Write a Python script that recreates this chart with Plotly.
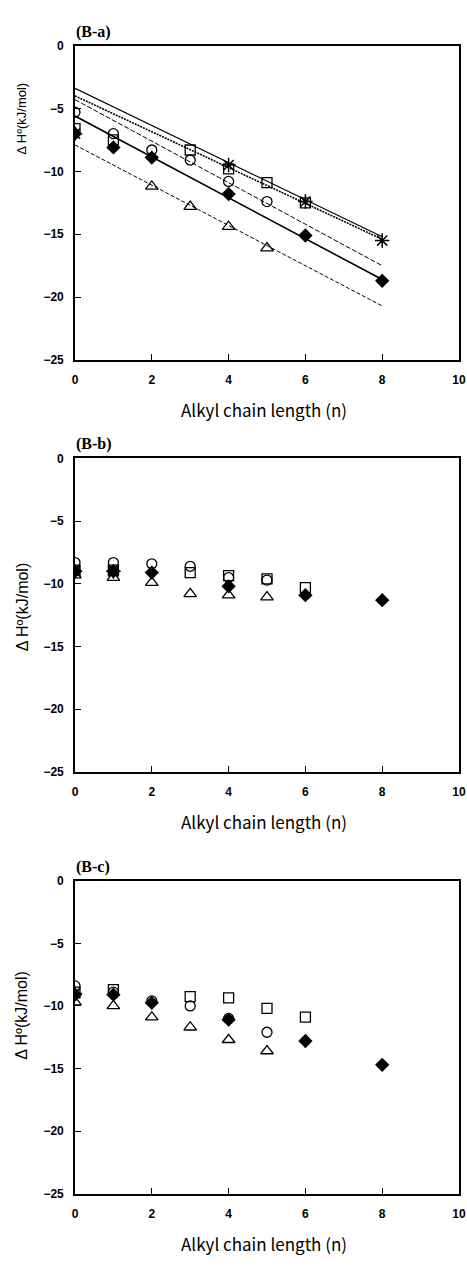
import plotly.graph_objects as go

W, H = 467, 1267
ML, MR = 75, 8

# ---------------- data ----------------
# Panel (B-a)
a_circle_x = [0, 1, 2, 3, 4, 5]
a_circle_y = [-5.3, -7.0, -8.3, -9.1, -10.8, -12.4]
a_square_x = [0, 1, 3, 4, 5, 6]
a_square_y = [-6.6, -7.5, -8.3, -9.8, -10.9, -12.5]
a_diamond_x = [0, 1, 2, 4, 6, 8]
a_diamond_y = [-7.0, -8.1, -8.9, -11.8, -15.1, -18.7]
a_triangle_x = [2, 3, 4, 5]
a_triangle_y = [-11.2, -12.8, -14.4, -16.1]
a_star_x = [0, 4, 6, 8]
a_star_y = [-7.0, -9.5, -12.4, -15.5]

fit_x = [0, 8]
a_star_fit = [-3.4, -15.2]
a_square_fit = [-4.0, -15.4]
a_circle_fit = [-4.3, -17.5]
a_diamond_fit = [-5.6, -18.6]
a_triangle_fit = [-7.9, -20.7]

# Panel (B-b)
b_circle_x = [0, 1, 2, 3, 4, 5]
b_circle_y = [-8.3, -8.3, -8.4, -8.6, -9.5, -9.7]
b_square_x = [0, 1, 3, 4, 5, 6]
b_square_y = [-8.9, -8.9, -9.1, -9.35, -9.6, -10.3]
b_diamond_x = [0, 1, 2, 4, 6, 8]
b_diamond_y = [-9.0, -9.0, -9.1, -10.2, -10.9, -11.3]
b_triangle_x = [0, 1, 2, 3, 4, 5]
b_triangle_y = [-9.3, -9.5, -9.9, -10.8, -10.9, -11.05]
b_star_x = [0, 1]
b_star_y = [-9.0, -9.0]

# Panel (B-c)
c_circle_x = [0, 1, 2, 3, 4, 5]
c_circle_y = [-8.4, -8.9, -9.6, -10.0, -11.0, -12.1]
c_square_x = [0, 1, 3, 4, 5, 6]
c_square_y = [-8.9, -8.7, -9.25, -9.35, -10.2, -10.9]
c_diamond_x = [0, 1, 2, 4, 6, 8]
c_diamond_y = [-9.1, -9.1, -9.75, -11.1, -12.8, -14.7]
c_triangle_x = [0, 1, 2, 3, 4, 5]
c_triangle_y = [-9.7, -10.0, -10.9, -11.7, -12.7, -13.6]
c_star_x = [0]
c_star_y = [-9.0]

x_ticks = [0, 2, 4, 6, 8, 10]
y_ticks = [0, -5, -10, -15, -20, -25]
panel_titles = ["(B-a)", "(B-b)", "(B-c)"]
x_title = "Alkyl chain length (n)"
y_title = "\u0394 H\u00ba(kJ/mol)"

# ---------------- layout helpers ----------------
def yfrac(px):
    return 1 - px / H

def xfrac(px):
    return (px - ML) / (W - ML - MR)

# pixel top/bottom of each plot area
panels = [(39, 357), (456.5, 773.5), (883.5, 1200)]

fig = go.Figure()

BLACK = "black"

def add_markers(ax, cx, cy, sx, sy, dx, dy, tx, ty, stx, sty):
    xa = "x" if ax == 1 else f"x{ax}"
    ya = "y" if ax == 1 else f"y{ax}"
    common = dict(mode="markers", xaxis=xa, yaxis=ya, showlegend=False, hoverinfo="skip")
    fig.add_trace(go.Scatter(x=tx, y=ty, marker=dict(symbol="triangle-up-open", size=11,
                  color=BLACK, line=dict(width=1.3, color=BLACK)), **common))
    fig.add_trace(go.Scatter(x=sx, y=sy, marker=dict(symbol="square-open", size=10,
                  color=BLACK, line=dict(width=1.3, color=BLACK)), **common))
    fig.add_trace(go.Scatter(x=cx, y=cy, marker=dict(symbol="circle-open", size=10,
                  color=BLACK, line=dict(width=1.3, color=BLACK)), **common))
    fig.add_trace(go.Scatter(x=dx, y=dy, marker=dict(symbol="diamond", size=11,
                  color=BLACK, line=dict(width=0, color=BLACK)), **common))
    fig.add_trace(go.Scatter(x=stx, y=sty, marker=dict(symbol="asterisk-open", size=12,
                  color=BLACK, line=dict(width=1.5, color=BLACK)), **common))

# fit lines for panel a
for vals, dash, width in [
    (a_triangle_fit, "4px,2px", 1.0),
    (a_diamond_fit, "solid", 1.6),
    (a_circle_fit, "5px,2px", 1.0),
    (a_square_fit, "2px,1px", 1.6),
    (a_star_fit, "solid", 1.2),
]:
    fig.add_trace(go.Scatter(x=fit_x, y=vals, mode="lines", xaxis="x", yaxis="y",
                             line=dict(color=BLACK, width=width, dash=dash),
                             showlegend=False, hoverinfo="skip"))

add_markers(1, a_circle_x, a_circle_y, a_square_x, a_square_y, a_diamond_x, a_diamond_y,
            a_triangle_x, a_triangle_y, a_star_x, a_star_y)
add_markers(2, b_circle_x, b_circle_y, b_square_x, b_square_y, b_diamond_x, b_diamond_y,
            b_triangle_x, b_triangle_y, b_star_x, b_star_y)
add_markers(3, c_circle_x, c_circle_y, c_square_x, c_square_y, c_diamond_x, c_diamond_y,
            c_triangle_x, c_triangle_y, c_star_x, c_star_y)

tickfont = dict(family="Arial, Liberation Sans, sans-serif", size=12, color=BLACK, weight="bold")
layout = dict(
    width=W, height=H,
    margin=dict(l=ML, r=MR, t=0, b=0),
    paper_bgcolor="white", plot_bgcolor="white",
)

annotations = []
for i, (top, bot) in enumerate(panels, start=1):
    xk = "xaxis" if i == 1 else f"xaxis{i}"
    yk = "yaxis" if i == 1 else f"yaxis{i}"
    anchor_x = "y" if i == 1 else f"y{i}"
    anchor_y = "x" if i == 1 else f"x{i}"
    layout[xk] = dict(domain=[0, 1], anchor=anchor_x, range=[0, 10],
                      tickmode="array", tickvals=x_ticks, ticktext=[str(v) for v in x_ticks],
                      ticks="inside", ticklen=6, tickwidth=1.2, tickcolor=BLACK,
                      showline=True, linecolor=BLACK, linewidth=1.6, mirror=True,
                      showgrid=False, zeroline=False, tickfont=tickfont,
                      ticklabelstandoff=8)
    layout[yk] = dict(domain=[yfrac(bot), yfrac(top)], anchor=anchor_y, range=[-25, 0],
                      tickmode="array", tickvals=y_ticks,
                      ticktext=["0" if v == 0 else "\u2212" + str(-v) for v in y_ticks],
                      ticks="inside", ticklen=6, tickwidth=1.2, tickcolor=BLACK,
                      showline=True, linecolor=BLACK, linewidth=1.6, mirror=True,
                      showgrid=False, zeroline=False, tickfont=tickfont,
                      ticklabelstandoff=7)
    # panel title
    annotations.append(dict(text="<b>" + panel_titles[i - 1] + "</b>", xref="paper", yref="paper",
                            x=xfrac(74), y=yfrac(top - 3), xanchor="left", yanchor="bottom",
                            showarrow=False,
                            font=dict(family="Liberation Serif, Times New Roman, serif", size=16, color=BLACK)))
    # x title
    annotations.append(dict(text=x_title, xref="paper", yref="paper",
                            x=xfrac(264), y=yfrac(bot + 50), xanchor="center", yanchor="middle",
                            showarrow=False,
                            font=dict(family="Noto Sans CJK JP, Arial, sans-serif", size=17, color=BLACK)))

# y titles
ytitle_pos = [(22, 113, 13), (22, 607, 16), (22, 1020, 16)]
for (px, py, fs) in ytitle_pos:
    annotations.append(dict(text=y_title, xref="paper", yref="paper",
                            x=xfrac(px), y=yfrac(py), xanchor="center", yanchor="middle",
                            textangle=-90, showarrow=False,
                            font=dict(family="Arial, Liberation Sans, sans-serif", size=fs, color=BLACK)))

layout["annotations"] = annotations
fig.update_layout(**layout)
fig.write_html("out.html")
